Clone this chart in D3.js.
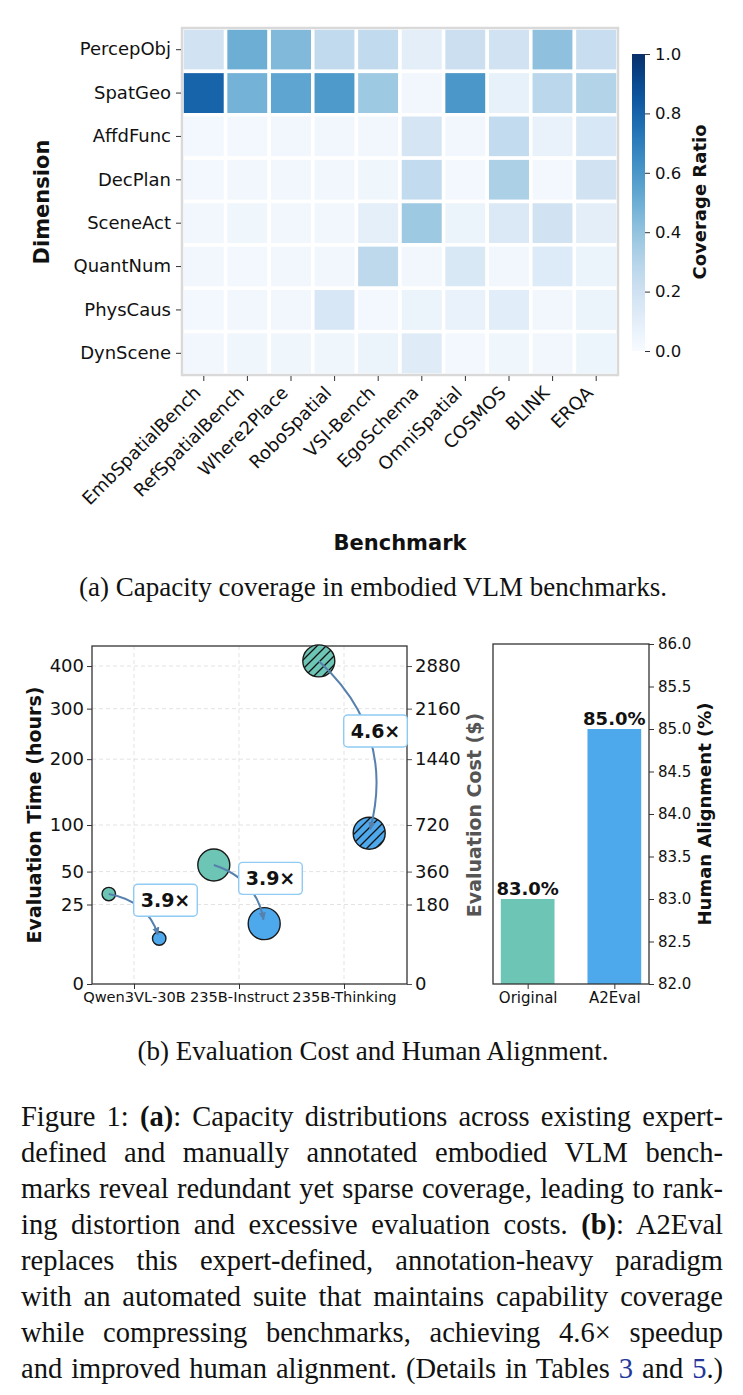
<!DOCTYPE html>
<html>
<head>
<meta charset="utf-8">
<script src="https://cdn.jsdelivr.net/npm/d3@7"></script>
<style>
  body { margin: 0; background: #fff; }
  svg { display: block; }
  text { font-family: "DejaVu Sans", sans-serif; fill: #111; }
  text.serif { font-family: "Liberation Serif", "Times New Roman", serif; }
</style>
</head>
<body>
<svg id="fig" width="743" height="1395"></svg>
<script>
// ---- data (a): capacity coverage heatmap ----
const dimensions = ["PercepObj", "SpatGeo", "AffdFunc", "DecPlan", "SceneAct", "QuantNum", "PhysCaus", "DynScene"];
const benchmarks = ["EmbSpatialBench", "RefSpatialBench", "Where2Place", "RoboSpatial", "VSI-Bench",
                    "EgoSchema", "OmniSpatial", "COSMOS", "BLINK", "ERQA"];
const coverage = [
  [0.19, 0.50, 0.45, 0.26, 0.26, 0.10, 0.22, 0.19, 0.41, 0.23],
  [0.80, 0.48, 0.54, 0.59, 0.37, 0.03, 0.60, 0.08, 0.28, 0.31],
  [0.02, 0.02, 0.03, 0.03, 0.03, 0.17, 0.03, 0.25, 0.07, 0.16],
  [0.02, 0.03, 0.03, 0.03, 0.04, 0.25, 0.02, 0.33, 0.02, 0.19],
  [0.03, 0.04, 0.03, 0.03, 0.09, 0.37, 0.06, 0.14, 0.19, 0.10],
  [0.03, 0.02, 0.03, 0.03, 0.27, 0.03, 0.15, 0.03, 0.13, 0.06],
  [0.02, 0.03, 0.03, 0.16, 0.02, 0.06, 0.07, 0.11, 0.03, 0.06],
  [0.03, 0.04, 0.04, 0.04, 0.06, 0.12, 0.02, 0.04, 0.03, 0.05]
];
const colorbarTicks = [0, 0.2, 0.4, 0.6, 0.8, 1.0];

// ---- data (b): evaluation cost ----
const models = ["Qwen3VL-30B", "235B-Instruct", "235B-Thinking"];
const modelParams = [30, 235, 235];           // billions, drives bubble size
const isThinking = [false, false, true];
const originalHours = [32, 56, 413];
const a2evalHours = [8.2, 14.4, 90];
const hourTicks = [0, 25, 50, 100, 200, 300, 400];
const costPerHour = 7.2;
const costTicks = [0, 180, 360, 720, 1440, 2160, 2880];

// ---- data (b): human alignment ----
const methods = ["Original", "A2Eval"];
const alignment = [83.0, 85.0];
const alignTicks = [82, 82.5, 83, 83.5, 84, 84.5, 85, 85.5, 86];

const TEAL = "#6cc5b5", BLUE = "#4ea9ec";
const svg = d3.select("#fig");
svg.append("rect").attr("width", 743).attr("height", 1395).attr("fill", "#fff");
const defs = svg.append("defs");

// ================= heatmap =================
const hm = { left: 182, right: 618, top: 28, bottom: 375 };
const x = d3.scaleBand().domain(benchmarks).range([hm.left, hm.right]);
const y = d3.scaleBand().domain(dimensions).range([hm.top, hm.bottom]);
const color = d3.scaleSequential(d3.interpolateBlues).domain([0, 1]);

const cells = [];
dimensions.forEach((d, i) => benchmarks.forEach((b, j) => cells.push({ d, b, v: coverage[i][j] })));

svg.append("g").selectAll("rect").data(cells).join("rect")
  .attr("x", c => x(c.b)).attr("y", c => y(c.d))
  .attr("width", x.bandwidth()).attr("height", y.bandwidth())
  .attr("fill", c => color(c.v))
  .attr("stroke", "#fff").attr("stroke-width", 3.5);

svg.append("rect")
  .attr("x", hm.left).attr("y", hm.top)
  .attr("width", hm.right - hm.left).attr("height", hm.bottom - hm.top)
  .attr("fill", "none").attr("stroke", "#d9d9d9").attr("stroke-width", 2.5);

const xAx = svg.append("g").attr("transform", `translate(0,${hm.bottom + 1})`)
  .call(d3.axisBottom(x).tickSize(5).tickSizeOuter(0));
xAx.select(".domain").remove();
xAx.selectAll("line").attr("stroke", "#333");
xAx.selectAll("text")
  .attr("font-size", 18).attr("fill", "#111")
  .attr("text-anchor", "end").attr("y", 0).attr("dy", 0)
  .attr("transform", "translate(-2,18) rotate(-45)");

const yAx = svg.append("g").attr("transform", `translate(${hm.left - 1},0)`)
  .call(d3.axisLeft(y).tickSize(5).tickPadding(5).tickSizeOuter(0));
yAx.select(".domain").remove();
yAx.selectAll("line").attr("stroke", "#333");
yAx.selectAll("text").attr("font-size", 18).attr("fill", "#111");

svg.append("text").attr("transform", "translate(49,202) rotate(-90)")
  .attr("text-anchor", "middle").attr("font-size", 21).attr("font-weight", "bold")
  .text("Dimension");
svg.append("text").attr("x", 400).attr("y", 550)
  .attr("text-anchor", "middle").attr("font-size", 21).attr("font-weight", "bold")
  .text("Benchmark");

// colorbar
const cb = { x: 632, w: 13, top: 54, bottom: 351 };
const grad = defs.append("linearGradient").attr("id", "cbGrad")
  .attr("x1", 0).attr("y1", 1).attr("x2", 0).attr("y2", 0);
d3.range(0, 1.0001, 0.05).forEach(t =>
  grad.append("stop").attr("offset", t).attr("stop-color", color(t)));
svg.append("rect").attr("x", cb.x).attr("y", cb.top)
  .attr("width", cb.w).attr("height", cb.bottom - cb.top).attr("fill", "url(#cbGrad)");
const cbScale = d3.scaleLinear().domain([0, 1]).range([cb.bottom, cb.top]);
const cbAx = svg.append("g").attr("transform", `translate(${cb.x + cb.w},0)`)
  .call(d3.axisRight(cbScale).tickValues(colorbarTicks).tickFormat(d3.format(".1f"))
    .tickSize(5).tickPadding(5));
cbAx.select(".domain").remove();
cbAx.selectAll("line").attr("stroke", "#333");
cbAx.selectAll("text").attr("font-size", 16.5).attr("fill", "#111");
svg.append("text").attr("transform", "translate(706,202) rotate(-90)")
  .attr("text-anchor", "middle").attr("font-size", 18).attr("font-weight", "bold")
  .text("Coverage Ratio");

// ================= bubble chart (evaluation time / cost) =================
const L = { left: 92, right: 407, top: 646, bottom: 984 };
const xL = d3.scaleLinear().domain([-0.4, 2.6]).range([L.left, L.right]);
const yL = d3.scaleSqrt().domain([0, 452]).range([L.bottom, L.top]);
const yCost = d3.scaleSqrt().domain([0, 452 * costPerHour]).range([L.bottom, L.top]);
const rScale = d3.scalePow().exponent(0.42).domain([0, 235]).range([0, 16]);

const grid = svg.append("g").attr("stroke", "#dcdcdc").attr("stroke-width", 0.8)
  .attr("stroke-dasharray", "4,3");
hourTicks.filter(t => t > 0).forEach(t =>
  grid.append("line").attr("x1", L.left).attr("x2", L.right).attr("y1", yL(t)).attr("y2", yL(t)));
models.forEach((m, i) =>
  grid.append("line").attr("x1", xL(i)).attr("x2", xL(i)).attr("y1", L.top).attr("y2", L.bottom));

const lAx = svg.append("g").attr("transform", `translate(${L.left},0)`)
  .call(d3.axisLeft(yL).tickValues(hourTicks).tickSize(5).tickPadding(3));
lAx.select(".domain").remove();
lAx.selectAll("line").attr("stroke", "#333");
lAx.selectAll("text").attr("font-size", 18).attr("fill", "#111");

const rAx = svg.append("g").attr("transform", `translate(${L.right},0)`)
  .call(d3.axisRight(yCost).tickValues(costTicks).tickFormat(d3.format("d")).tickSize(5).tickPadding(3));
rAx.select(".domain").remove();
rAx.selectAll("line").attr("stroke", "#555");
rAx.selectAll("text").attr("font-size", 18).attr("fill", "#555");

const bAx = svg.append("g").attr("transform", `translate(0,${L.bottom})`)
  .call(d3.axisBottom(xL).tickValues([0, 1, 2]).tickFormat(i => models[i]).tickSize(5).tickPadding(3));
bAx.select(".domain").remove();
bAx.selectAll("line").attr("stroke", "#333");
bAx.selectAll("text").attr("font-size", 14.6).attr("fill", "#111");

svg.append("rect").attr("x", L.left).attr("y", L.top)
  .attr("width", L.right - L.left).attr("height", L.bottom - L.top)
  .attr("fill", "none").attr("stroke", "#333").attr("stroke-width", 1.3);

svg.append("text").attr("transform", `translate(41,${(L.top + L.bottom) / 2}) rotate(-90)`)
  .attr("text-anchor", "middle").attr("font-size", 19).attr("font-weight", "bold")
  .text("Evaluation Time (hours)");
svg.append("text").attr("transform", `translate(481,${(L.top + L.bottom) / 2}) rotate(-90)`)
  .attr("text-anchor", "middle").attr("font-size", 19).attr("font-weight", "bold")
  .style("fill", "#555").text("Evaluation Cost ($)");

// hatch for the thinking model
defs.append("pattern").attr("id", "hatch").attr("patternUnits", "userSpaceOnUse")
  .attr("width", 9).attr("height", 9)
  .append("path").attr("d", "M-2,2 L2,-2 M0,9 L9,0 M7,11 L11,7")
  .attr("stroke", "#111").attr("stroke-width", 1.3);
defs.append("marker").attr("id", "arrowHead").attr("viewBox", "0 0 10 10")
  .attr("refX", 8).attr("refY", 5).attr("markerWidth", 9).attr("markerHeight", 9)
  .attr("markerUnits", "userSpaceOnUse").attr("orient", "auto")
  .append("path").attr("d", "M0,1 L9,5 L0,9 Z").attr("fill", "#5680ad");

const pts = models.map((m, i) => ({
  i,
  r: rScale(modelParams[i]),
  hatch: isThinking[i],
  x0: xL(i - 0.24), y0: yL(originalHours[i]),
  x1: xL(i + 0.24), y1: yL(a2evalHours[i]),
  ratio: originalHours[i] / a2evalHours[i]
}));

const bubbles = svg.append("g");
pts.forEach(p => {
  [[p.x0, p.y0, TEAL], [p.x1, p.y1, BLUE]].forEach(([cx, cy, fill]) => {
    bubbles.append("circle").attr("cx", cx).attr("cy", cy).attr("r", p.r).attr("fill", fill);
    if (p.hatch) bubbles.append("circle").attr("cx", cx).attr("cy", cy).attr("r", p.r).attr("fill", "url(#hatch)");
    bubbles.append("circle").attr("cx", cx).attr("cy", cy).attr("r", p.r)
      .attr("fill", "none").attr("stroke", "#1a1a1a").attr("stroke-width", 1.4);
  });
});

// curved arrows (arc3-like, rad 0.3)
pts.forEach(p => {
  const dx = p.x1 - p.x0, dy = p.y1 - p.y0;
  const cx = (p.x0 + p.x1) / 2 + 0.3 * dy, cy = (p.y0 + p.y1) / 2 - 0.3 * dx;
  const tx = p.x1 - cx, ty = p.y1 - cy, tl = Math.hypot(tx, ty);
  const ex = p.x1 - 4 * tx / tl, ey = p.y1 - 4 * ty / tl;
  svg.append("path")
    .attr("d", `M${p.x0},${p.y0} Q${cx},${cy} ${ex},${ey}`)
    .attr("fill", "none").attr("stroke", "#5680ad").attr("stroke-width", 2)
    .attr("marker-end", "url(#arrowHead)");
});

// speedup labels
pts.forEach(p => {
  const lx = xL(p.i + 0.3), ly = (p.y0 + p.y1) / 2 - 16;
  const g = svg.append("g");
  const rect = g.append("rect");
  const t = g.append("text").attr("x", lx).attr("y", ly).attr("dy", "0.36em")
    .attr("text-anchor", "middle").attr("font-size", 19).attr("font-weight", "bold")
    .text(p.ratio.toFixed(1) + "\u00d7");
  const bb = t.node().getBBox();
  rect.attr("x", bb.x - 7).attr("y", ly - 16).attr("width", bb.width + 14).attr("height", 32)
    .attr("rx", 4).attr("fill", "#fff").attr("stroke", "#8fcbf2").attr("stroke-width", 1.4);
});

// ================= bar chart (human alignment) =================
const R = { left: 493, right: 649, top: 644, bottom: 984 };
const xR = d3.scaleLinear().domain([-0.4, 1.4]).range([R.left, R.right]);
const yA = d3.scaleLinear().domain([82, 86]).range([R.bottom, R.top]);
const barW = 0.62;

svg.append("g").selectAll("rect").data(alignment).join("rect")
  .attr("x", (v, i) => xR(i - barW / 2)).attr("width", xR(barW) - xR(0))
  .attr("y", v => yA(v)).attr("height", v => R.bottom - yA(v))
  .attr("fill", (v, i) => i === 0 ? TEAL : BLUE);

svg.append("g").selectAll("text").data(alignment).join("text")
  .attr("x", (v, i) => xR(i)).attr("y", v => yA(v) - 4)
  .attr("text-anchor", "middle").attr("font-size", 18).attr("font-weight", "bold")
  .text(v => v.toFixed(1) + "%");

const raAx = svg.append("g").attr("transform", `translate(${R.right},0)`)
  .call(d3.axisRight(yA).tickValues(alignTicks).tickFormat(d3.format(".1f")).tickSize(5).tickPadding(4));
raAx.select(".domain").remove();
raAx.selectAll("line").attr("stroke", "#333");
raAx.selectAll("text").attr("font-size", 15).attr("fill", "#111");

const rbAx = svg.append("g").attr("transform", `translate(0,${R.bottom})`)
  .call(d3.axisBottom(xR).tickValues([0, 1]).tickFormat(i => methods[i]).tickSize(5).tickPadding(3));
rbAx.select(".domain").remove();
rbAx.selectAll("line").attr("stroke", "#333");
rbAx.selectAll("text").attr("font-size", 15).attr("fill", "#111");

svg.append("rect").attr("x", R.left).attr("y", R.top)
  .attr("width", R.right - R.left).attr("height", R.bottom - R.top)
  .attr("fill", "none").attr("stroke", "#333").attr("stroke-width", 1.3);

svg.append("text").attr("transform", `translate(711,${(R.top + R.bottom) / 2}) rotate(-90)`)
  .attr("text-anchor", "middle").attr("font-size", 18).attr("font-weight", "bold")
  .text("Human Alignment (%)");

// ================= captions =================
svg.append("text").attr("class", "serif").attr("x", 373).attr("y", 596)
  .attr("text-anchor", "middle").attr("font-size", 27)
  .text("(a) Capacity coverage in embodied VLM benchmarks.");
svg.append("text").attr("class", "serif").attr("x", 373).attr("y", 1060)
  .attr("text-anchor", "middle").attr("font-size", 27)
  .text("(b) Evaluation Cost and Human Alignment.");

const capLines = [
  [["Figure 1: "], ["(a)", "b"], [": Capacity distributions across existing expert-"]],
  [["defined and manually annotated embodied VLM bench-"]],
  [["marks reveal redundant yet sparse coverage, leading to rank-"]],
  [["ing distortion and excessive evaluation costs. "], ["(b)", "b"], [": A2Eval"]],
  [["replaces this expert-defined, annotation-heavy paradigm"]],
  [["with an automated suite that maintains capability coverage"]],
  [["while compressing benchmarks, achieving 4.6\u00d7 speedup"]],
  [["and improved human alignment. (Details in Tables "], ["3", "link"], [" and "], ["5", "link"], [".)"]]
];
const capLeft = 21, capWidth = 702;
capLines.forEach((parts, k) => {
  const t = svg.append("text").attr("class", "serif")
    .attr("x", capLeft).attr("y", 1126 + k * 36).attr("font-size", 28.5);
  parts.forEach(([s, kind]) => {
    const ts = t.append("tspan").text(s);
    if (kind === "b") ts.attr("font-weight", "bold");
    if (kind === "link") ts.style("fill", "#23379b");
  });
  const w = t.node().getComputedTextLength();
  const spaces = (t.text().match(/ /g) || []).length;
  if (w > capWidth || spaces === 0) {
    t.attr("textLength", capWidth).attr("lengthAdjust", "spacingAndGlyphs");
  } else {
    t.attr("word-spacing", (capWidth - w) / spaces);
  }
});
</script>
</body>
</html>
